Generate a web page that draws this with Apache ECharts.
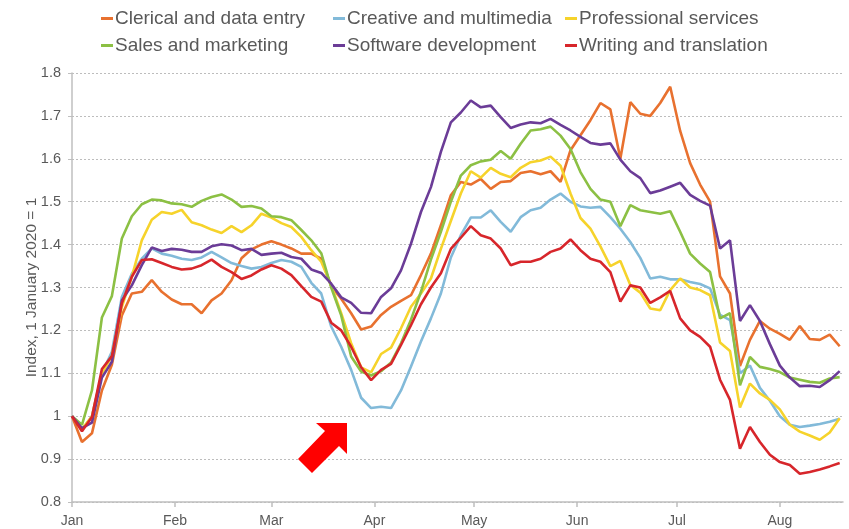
<!DOCTYPE html>
<html lang="en">
<head>
    <meta charset="UTF-8">
    <title>Online labour index by occupation</title>
    <script src="https://cdn.jsdelivr.net/npm/echarts@6/dist/echarts.min.js"></script>
    <style>
        html, body { margin: 0; padding: 0; background: #fff; }
        #chart { width: 849px; height: 529px; }
    </style>
</head>
<body>
<div id="chart"></div>
<script>
    // days since 1 Jan 2020, one reading every 3 days
    var days = [0, 3, 6, 9, 12, 15, 18, 21, 24, 27, 30, 33, 36, 39, 42, 45, 48, 51, 54, 57,
        60, 63, 66, 69, 72, 75, 78, 81, 84, 87, 90, 93, 96, 99, 102, 105, 108, 111, 114, 117,
        120, 123, 126, 129, 132, 135, 138, 141, 144, 147, 150, 153, 156, 159, 162, 165, 168, 171, 174, 177,
        180, 183, 186, 189, 192, 195, 198, 201, 204, 207, 210, 213, 216, 219, 222, 225, 228, 231];

    // month ticks (day offsets) and their labels
    var monthStarts = [0, 31, 60, 91, 121, 152, 182, 213];
    var monthNames = ['Jan', 'Feb', 'Mar', 'Apr', 'May', 'Jun', 'Jul', 'Aug'];

    var seriesNames = ['Clerical and data entry', 'Creative and multimedia', 'Professional services',
        'Sales and marketing', 'Software development', 'Writing and translation'];

    var clerical = [1.0, 0.94, 0.96, 1.06, 1.12, 1.235, 1.286, 1.29, 1.317, 1.29, 1.272, 1.261, 1.261, 1.24, 1.27, 1.286, 1.317, 1.368, 1.389, 1.40,
        1.408, 1.40, 1.391, 1.379, 1.379, 1.367, 1.303, 1.274, 1.24, 1.202, 1.209, 1.236, 1.255, 1.269, 1.282, 1.329, 1.379, 1.445, 1.515, 1.546,
        1.54, 1.553, 1.53, 1.546, 1.548, 1.567, 1.571, 1.564, 1.571, 1.546, 1.62, 1.655, 1.69, 1.73, 1.715, 1.60, 1.732, 1.705, 1.70, 1.73,
        1.768, 1.665, 1.59, 1.54, 1.50, 1.326, 1.286, 1.117, 1.178, 1.222, 1.204, 1.192, 1.178, 1.21, 1.18, 1.178, 1.19, 1.163];

    var creative = [1.0, 0.968, 1.0, 1.10, 1.15, 1.278, 1.332, 1.367, 1.391, 1.379, 1.374, 1.367, 1.364, 1.37, 1.383, 1.37, 1.357, 1.35, 1.344, 1.348,
        1.357, 1.364, 1.36, 1.348, 1.311, 1.286, 1.209, 1.162, 1.108, 1.043, 1.019, 1.022, 1.019, 1.06, 1.116, 1.174, 1.228, 1.286, 1.37, 1.422,
        1.463, 1.463, 1.48, 1.453, 1.43, 1.464, 1.48, 1.486, 1.505, 1.519, 1.50, 1.489, 1.486, 1.488, 1.464, 1.437, 1.406, 1.369, 1.321, 1.325,
        1.319, 1.319, 1.313, 1.308, 1.298, 1.236, 1.224, 1.10, 1.118, 1.066, 1.036, 1.0, 0.98, 0.975, 0.978, 0.982, 0.987, 0.994];

    var professional = [1.0, 0.97, 1.0, 1.10, 1.14, 1.255, 1.325, 1.41, 1.458, 1.476, 1.472, 1.481, 1.452, 1.445, 1.435, 1.427, 1.443, 1.429, 1.445, 1.472,
        1.463, 1.45, 1.441, 1.418, 1.387, 1.36, 1.305, 1.24, 1.17, 1.114, 1.102, 1.145, 1.16, 1.205, 1.255, 1.286, 1.321, 1.39, 1.455, 1.519,
        1.571, 1.556, 1.579, 1.565, 1.557, 1.579, 1.592, 1.596, 1.605, 1.584, 1.519, 1.462, 1.437, 1.396, 1.35, 1.362, 1.306, 1.288, 1.251, 1.247,
        1.294, 1.321, 1.30, 1.294, 1.282, 1.172, 1.152, 1.02, 1.076, 1.053, 1.038, 1.016, 0.98, 0.964, 0.955, 0.945, 0.962, 0.995];

    var sales = [1.0, 0.98, 1.06, 1.23, 1.28, 1.414, 1.466, 1.494, 1.505, 1.503, 1.496, 1.494, 1.488, 1.502, 1.511, 1.517, 1.505, 1.488, 1.49, 1.484,
        1.466, 1.464, 1.457, 1.434, 1.41, 1.38, 1.30, 1.235, 1.139, 1.104, 1.095, 1.105, 1.125, 1.17, 1.225, 1.29, 1.365, 1.43, 1.50, 1.561,
        1.585, 1.594, 1.598, 1.618, 1.60, 1.635, 1.666, 1.669, 1.675, 1.654, 1.623, 1.569, 1.53, 1.505, 1.50, 1.443, 1.492, 1.48, 1.476, 1.472,
        1.478, 1.43, 1.379, 1.356, 1.336, 1.228, 1.24, 1.072, 1.138, 1.115, 1.11, 1.103, 1.09, 1.085, 1.08, 1.078, 1.088, 1.091];

    var software = [1.0, 0.972, 0.985, 1.09, 1.127, 1.27, 1.305, 1.352, 1.393, 1.385, 1.39, 1.388, 1.383, 1.383, 1.396, 1.401, 1.398, 1.387, 1.39, 1.376,
        1.379, 1.381, 1.371, 1.367, 1.342, 1.334, 1.309, 1.277, 1.264, 1.241, 1.24, 1.278, 1.298, 1.34, 1.402, 1.476, 1.534, 1.616, 1.685, 1.708,
        1.736, 1.72, 1.724, 1.697, 1.672, 1.68, 1.685, 1.683, 1.693, 1.679, 1.666, 1.651, 1.637, 1.633, 1.636, 1.598, 1.571, 1.555, 1.52, 1.526,
        1.535, 1.544, 1.516, 1.502, 1.491, 1.391, 1.41, 1.222, 1.259, 1.222, 1.168, 1.118, 1.09, 1.07, 1.071, 1.068, 1.084, 1.105];

    var writing = [1.0, 0.965, 0.998, 1.11, 1.14, 1.263, 1.325, 1.364, 1.366, 1.357, 1.348, 1.342, 1.344, 1.352, 1.365, 1.348, 1.336, 1.32, 1.328, 1.342,
        1.352, 1.344, 1.329, 1.303, 1.278, 1.267, 1.218, 1.20, 1.162, 1.114, 1.084, 1.108, 1.122, 1.166, 1.212, 1.261, 1.30, 1.333, 1.39, 1.416,
        1.443, 1.422, 1.414, 1.391, 1.352, 1.36, 1.36, 1.367, 1.383, 1.391, 1.412, 1.387, 1.367, 1.36, 1.336, 1.267, 1.305, 1.30, 1.264, 1.277,
        1.292, 1.228, 1.20, 1.185, 1.162, 1.085, 1.038, 0.924, 0.975, 0.94, 0.91, 0.893, 0.886, 0.866, 0.87, 0.876, 0.883, 0.891];

    var allValues = [clerical, creative, professional, sales, software, writing];
    var colors = ['#E8712F', '#82BAD9', '#F6D32B', '#8CC044', '#6B3C97', '#D7262B'];

    var grey = '#595959';
    var font = 'Liberation Sans, Arial, sans-serif';

    var chart = echarts.init(document.getElementById('chart'), null, { renderer: 'canvas' });

    var series = [];
    for (var s = 0; s < seriesNames.length; s++) {
        var pts = [];
        for (var i = 0; i < days.length; i++) {
            pts.push([days[i], allValues[s][i]]);
        }
        series.push({
            name: seriesNames[s],
            type: 'line',
            data: pts,
            showSymbol: false,
            symbol: 'none',
            lineStyle: { width: 2.6, color: colors[s] },
            itemStyle: { color: colors[s] },
            z: 2 + s
        });
    }

    function legendCol(left, names) {
        return {
            left: left,
            top: 8,
            padding: 0,
            orient: 'vertical',
            data: names,
            icon: 'rect',
            itemWidth: 12,
            itemHeight: 3,
            itemGap: 6,
            textStyle: { color: grey, fontSize: 19, fontFamily: font, lineHeight: 21, padding: [0, 0, 0, -3] }
        };
    }

    var option = {
        animation: false,
        color: colors,
        grid: { left: 72, right: 6, top: 73, bottom: 27, containLabel: false },
        legend: [
            legendCol(101, [seriesNames[0], seriesNames[3]]),
            legendCol(333, [seriesNames[1], seriesNames[4]]),
            legendCol(565, [seriesNames[2], seriesNames[5]])
        ],
        xAxis: {
            type: 'value',
            min: 0,
            max: 232,
            axisLine: { show: true, lineStyle: { color: '#BFBFBF', width: 1.5 } },
            axisTick: { show: true, length: 5, customValues: monthStarts, lineStyle: { color: '#BFBFBF', width: 1.5 } },
            axisLabel: {
                customValues: monthStarts,
                color: grey,
                fontSize: 14,
                fontFamily: font,
                margin: 12,
                formatter: function (v) {
                    var k = monthStarts.indexOf(v);
                    return k >= 0 ? monthNames[k] : '';
                }
            },
            splitLine: { show: false }
        },
        yAxis: {
            type: 'value',
            min: 0.8,
            max: 1.8,
            interval: 0.1,
            name: 'Index, 1 January 2020 = 1',
            nameLocation: 'middle',
            nameGap: 32,
            nameMoveOverlap: false,
            nameTextStyle: { color: grey, fontSize: 15.5, fontFamily: font },
            axisLine: { show: true, lineStyle: { color: '#BFBFBF', width: 1.5 } },
            axisTick: { show: true, length: 4, lineStyle: { color: '#BFBFBF' } },
            axisLabel: {
                color: grey,
                fontSize: 14.5,
                fontFamily: font,
                margin: 11,
                formatter: function (v) { return String(Math.round(v * 10) / 10); }
            },
            splitLine: { show: true, lineStyle: { color: '#BDBDBD', type: [2, 2], width: 1 } }
        },
        graphic: [{
            // red arrow pointing at the April low
            type: 'polygon',
            z: 100,
            shape: {
                points: [[347, 423], [347, 454], [339, 446], [312, 473], [298, 459], [325, 431], [316, 423]]
            },
            style: { fill: '#FF0000' }
        }],
        series: series
    };

    chart.setOption(option);
</script>
</body>
</html>
